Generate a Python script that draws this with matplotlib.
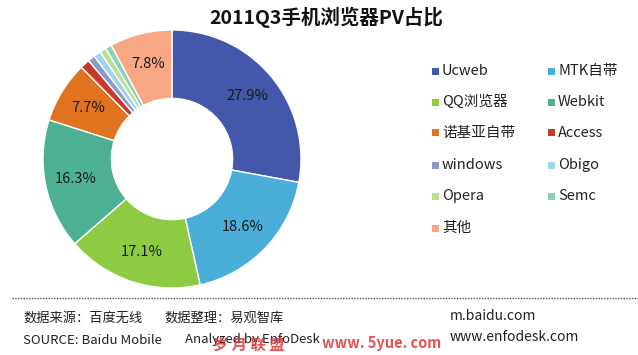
import matplotlib
matplotlib.use("Agg")
import matplotlib.pyplot as plt
from matplotlib.patches import Rectangle
import numpy as np

plt.rcParams['font.family'] = ['Noto Sans CJK SC', 'DejaVu Sans']

categories = ["Ucweb", "MTK自带", "QQ浏览器", "Webkit", "诺基亚自带", "Access",
              "windows", "Obigo", "Opera", "Semc", "其他"]
values = [27.9, 18.6, 17.1, 16.3, 7.7, 1.2, 0.9, 0.9, 0.8, 0.8, 7.8]
colors = ["#4557AB", "#4BAED8", "#8DCB43", "#4DB095", "#E0731F", "#C9382C",
          "#8C9ACB", "#9DD4EE", "#B9E090", "#8DD0B9", "#F8A784"]
labeled = {"Ucweb", "MTK自带", "QQ浏览器", "Webkit", "诺基亚自带", "其他"}

fig = plt.figure(figsize=(6.38, 3.55), dpi=100)
fig.patch.set_facecolor("white")

W, H = 638, 355
cx, cy, r = 172, 159, 129
ax = fig.add_axes([(cx - r) / W, 1 - (cy + r) / H, 2 * r / W, 2 * r / H])
wedges, _ = ax.pie(values, colors=colors, startangle=90, counterclock=False,
                   radius=1.0, wedgeprops=dict(width=0.53, edgecolor="white", linewidth=1.0))
ax.set_aspect("equal")
ax.set_xlim(-1, 1)
ax.set_ylim(-1, 1)

total = sum(values)
ang = 90.0
for cat, v in zip(categories, values):
    mid = ang - v / total * 360 / 2
    ang -= v / total * 360
    if cat in labeled:
        rr = 0.76
        x = rr * np.cos(np.radians(mid))
        y = rr * np.sin(np.radians(mid))
        ax.text(x, y, f"{v:.1f}%", ha="center", va="center", fontsize=10.5, color="#1a1a1a")

fig.text(326 / W, 1 - 17 / H, "2011Q3手机浏览器PV占比", ha="center", va="center",
         fontsize=14, fontweight="bold", color="#111111")

# legend
rows_y = [71, 102, 133, 165, 196, 228]
cols_x = [432, 548]
for i, (cat, col) in enumerate(zip(categories, colors)):
    row, c = divmod(i, 2)
    x = cols_x[c]
    y = rows_y[row]
    fig.patches.append(Rectangle((x / W, 1 - (y + 3.5) / H), 7 / W, 7 / H,
                                 transform=fig.transFigure, facecolor=col, edgecolor="none"))
    fig.text((x + 10) / W, 1 - y / H, cat, ha="left", va="center", fontsize=10.5, color="#222222")

# dotted separator
fig.add_artist(plt.Line2D([12 / W, 1.0], [1 - 298 / H, 1 - 298 / H], transform=fig.transFigure,
                          color="#555555", linestyle=(0, (1, 1)), linewidth=1.0))

fs = 9.5
fig.text(23 / W, 1 - 318 / H, "数据来源：百度无线", ha="left", va="center", fontsize=fs, color="#222222")
fig.text(164 / W, 1 - 318 / H, "数据整理：易观智库", ha="left", va="center", fontsize=fs, color="#222222")
fig.text(23 / W, 1 - 340 / H, "SOURCE: Baidu Mobile", ha="left", va="center", fontsize=fs, color="#222222")
fig.text(185 / W, 1 - 340 / H, "Analyzed by EnfoDesk", ha="left", va="center", fontsize=fs, color="#222222")
fig.text(450 / W, 1 - 316 / H, "m.baidu.com", ha="left", va="center", fontsize=10, color="#222222")
fig.text(450 / W, 1 - 337 / H, "www.enfodesk.com", ha="left", va="center", fontsize=10, color="#222222")

# watermark
fig.text(213 / W, 1 - 345 / H, "岁 月 联 盟", ha="left", va="center", fontsize=11,
         color="#E03535", fontweight="bold", alpha=0.85)
fig.text(322 / W, 1 - 343 / H, "www. 5yue. com", ha="left", va="center", fontsize=10.5,
         color="#E03535", fontweight="bold", alpha=0.85)

fig.savefig("out.png", dpi=100, facecolor="white")
